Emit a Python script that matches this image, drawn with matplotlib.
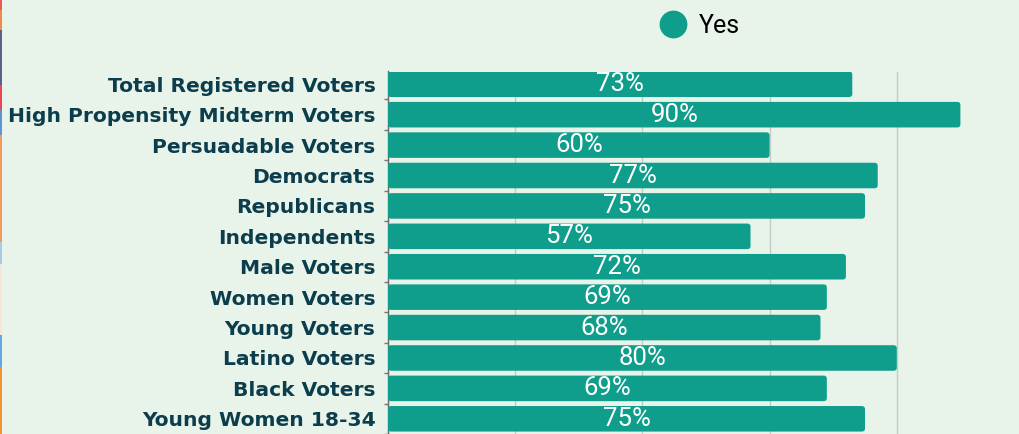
import matplotlib
matplotlib.use('Agg')
import matplotlib.pyplot as plt
from matplotlib.patches import FancyBboxPatch, Rectangle
from matplotlib.lines import Line2D

categories = [
    'Total Registered Voters', 'High Propensity Midterm Voters', 'Persuadable Voters',
    'Democrats', 'Republicans', 'Independents', 'Male Voters', 'Women Voters',
    'Young Voters', 'Latino Voters', 'Black Voters', 'Young Women 18-34',
]
yes_pct = [73, 90, 60, 77, 75, 57, 72, 69, 68, 80, 69, 75]

BG    = '#e8f3e9'
TEAL  = '#0f9e8c'
NAVY  = '#0c3d4d'

# decorative strip on the left edge: (top px, bottom px, colour)
strip = [(0, 10, '#ee5a4c'), (10, 30, '#f08a4a'), (30, 85, '#5b5f8d'),
         (85, 110, '#e8475a'), (110, 135, '#5f93d2'), (135, 242, '#f19a5c'),
         (242, 264, '#a6cbe8'), (264, 335, '#f5e6da'), (335, 367, '#62a9e0'),
         (367, 434, '#f29332')]

W, H = 1019, 434
fig = plt.figure(figsize=(W / 100, H / 100), dpi=100, facecolor=BG)
ax = fig.add_axes([388 / W, 0, 636 / W, (H - 71.5) / H], facecolor=BG)

y = list(range(len(categories)))
bars = ax.barh(y, yes_pct, height=0.84, color=TEAL, zorder=3)

# swap plain rectangles for slightly rounded ones
for b in bars:
    b.set_visible(False)
    ax.add_patch(FancyBboxPatch((b.get_x(), b.get_y()), b.get_width(), b.get_height(),
                                boxstyle='round,pad=0,rounding_size=0.5',
                                mutation_aspect=0.2, fc=TEAL, ec='none', zorder=3))

ax.bar_label(bars, labels=[f'{v}%' for v in yes_pct], label_type='center',
             color='white', fontsize=18.5, family='Roboto', zorder=4)

ax.set_xlim(0, 100)
ax.set_ylim(11.27, -0.42)
ax.set_xticks([0, 20, 40, 60, 80])
ax.tick_params(axis='x', length=0, labelbottom=False)
ax.grid(axis='x', color='#c4ccc6', lw=1, zorder=0)
ax.set_axisbelow(True)

ax.set_yticks(y)
ax.set_yticklabels(categories, fontsize=14.6, fontweight='bold', color=NAVY, family='DejaVu Sans')
ax.set_yticks([i + 0.5 for i in y], minor=True)
ax.tick_params(axis='y', which='major', length=0, pad=9)
ax.tick_params(axis='y', which='minor', length=3, color='#777777', width=1)

for s in ['top', 'right', 'bottom']:
    ax.spines[s].set_visible(False)
ax.spines['left'].set_color('#6a6a6a')
ax.spines['left'].set_linewidth(1)

fig.legend(handles=[Line2D([], [], marker='o', ls='', color=TEAL, markersize=19)],
           labels=['Yes'], loc='center left', bbox_to_anchor=(660 / W, 1 - 26 / H),
           frameon=False, handlelength=1.0, handletextpad=0.55, borderpad=0,
           borderaxespad=0, prop={'family': 'Roboto', 'size': 18})

for top, bot, c in strip:
    fig.add_artist(Rectangle((0, 1 - bot / H), 2 / W, (bot - top) / H,
                             transform=fig.transFigure, color=c, lw=0))

fig.savefig('out.png', dpi=100, facecolor=BG)
